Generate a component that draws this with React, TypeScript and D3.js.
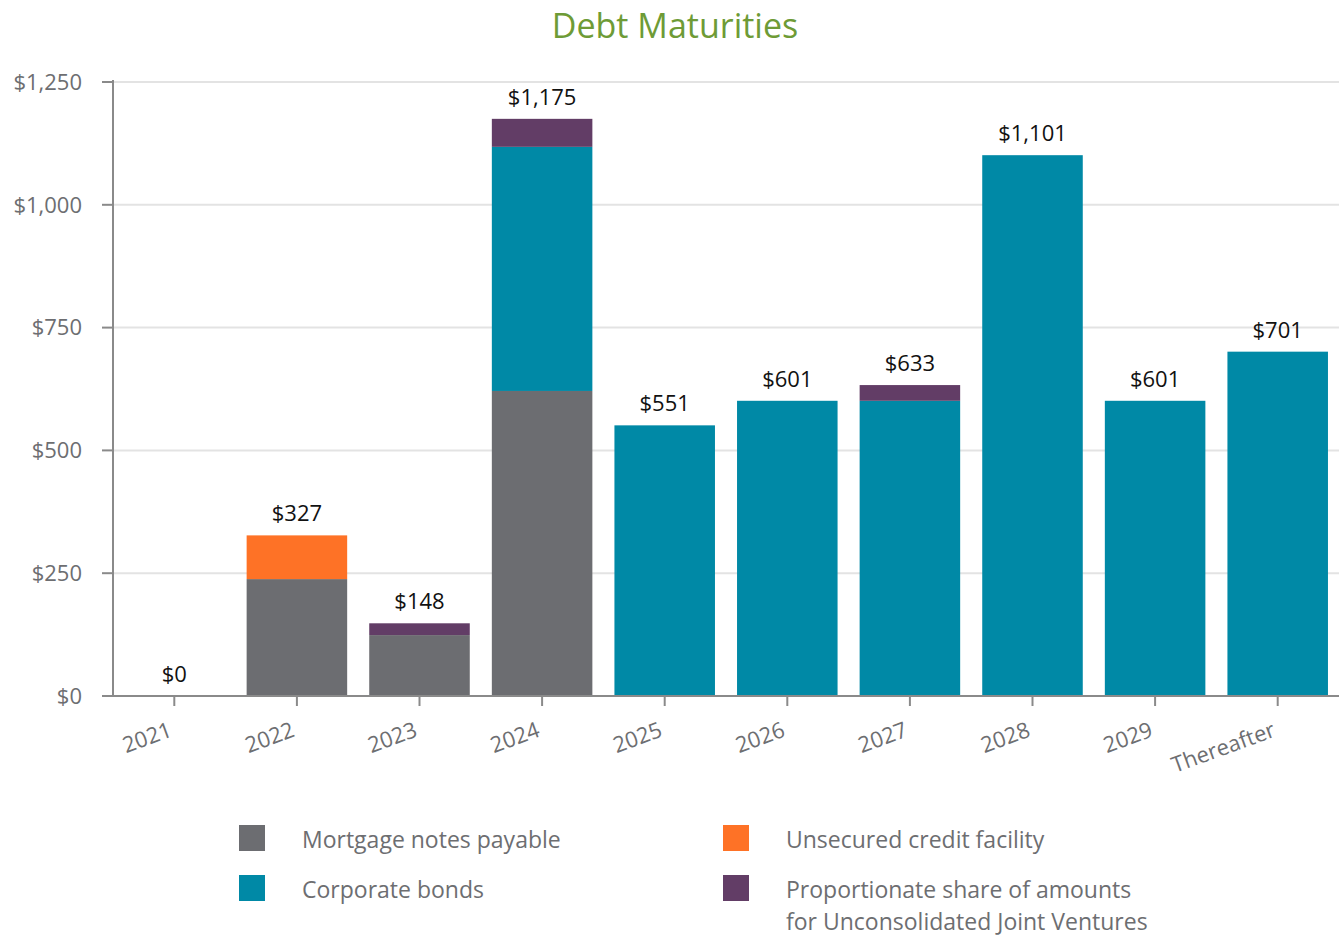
import React from "react";
import * as d3 from "d3";

const years = ["2021", "2022", "2023", "2024", "2025", "2026", "2027", "2028", "2029", "Thereafter"];
const mortgage = [0, 238, 124, 621, 0, 0, 0, 0, 0, 0];
const bonds = [0, 0, 0, 497, 551, 601, 601, 1101, 601, 701];
const unsecured = [0, 89, 0, 0, 0, 0, 0, 0, 0, 0];
const jointVentures = [0, 0, 24, 57, 0, 0, 32, 0, 0, 0];
const totals = [0, 327, 148, 1175, 551, 601, 633, 1101, 601, 701];
const yTicks = [0, 250, 500, 750, 1000, 1250];

const seriesKeys = ["mortgage", "bonds", "unsecured", "jv"];
const seriesNames = [
  "Mortgage notes payable",
  "Corporate bonds",
  "Unsecured credit facility",
  "Proportionate share of amounts",
];
const colors: Record<string, string> = {
  mortgage: "#6c6d71",
  bonds: "#0089a6",
  unsecured: "#fe7226",
  jv: "#623d66",
};

const FONT = "'Open Sans', 'Noto Sans', sans-serif";
const GREY = "#6d6e71";

export default function App() {
  const width = 1343;
  const height = 937;
  const left = 113;
  const right = 1339;
  const top = 82;
  const bottom = 696;

  const x = d3.scaleBand().domain(years).range([left, right]).paddingInner(0.18).paddingOuter(0.09);
  const y = d3.scaleLinear().domain([0, 1250]).range([bottom, top]);

  const table = years.map((yr, i) => ({
    year: yr,
    mortgage: mortgage[i],
    bonds: bonds[i],
    unsecured: unsecured[i],
    jv: jointVentures[i],
  }));
  const stacked = d3.stack<any>().keys(seriesKeys)(table);
  const fmt = d3.format(",");

  // legend layout: two columns, two rows
  const legend = seriesKeys.map((k, i) => ({
    k,
    n: seriesNames[i],
    lx: i < 2 ? 239 : 723,
    ly: i % 2 === 0 ? 825 : 875,
  }));

  return (
    <svg width={width} height={height} style={{ display: "block", position: "absolute", left: 0, top: 0 }} fontFamily={FONT}>
      <text x={675} y={38} textAnchor="middle" fontSize={34} fill="#6e9b36">
        Debt Maturities
      </text>

      {yTicks.map((t) => (
        <g key={t}>
          {t > 0 && <line x1={left} x2={right} y1={y(t)} y2={y(t)} stroke="#e3e3e3" strokeWidth={2} />}
          <line x1={left - 11} x2={left} y1={y(t)} y2={y(t)} stroke="#8a8a8a" strokeWidth={2} />
          <text x={82} y={y(t)} dy="0.35em" textAnchor="end" fontSize={22} fill={GREY}>
            ${fmt(t)}
          </text>
        </g>
      ))}

      {stacked.map((s) => (
        <g key={s.key} fill={colors[s.key]}>
          {s.map((d, i) =>
            d[1] - d[0] > 0 ? (
              <rect key={i} x={x(years[i])} width={x.bandwidth()} y={y(d[1])} height={y(d[0]) - y(d[1])} />
            ) : null
          )}
        </g>
      ))}

      <line x1={left} x2={left} y1={top - 2} y2={bottom} stroke="#8a8a8a" strokeWidth={2} />
      <line x1={left - 11} x2={right} y1={bottom} y2={bottom} stroke="#8a8a8a" strokeWidth={2} />

      {years.map((yr, i) => {
        const cx = x(yr)! + x.bandwidth() / 2;
        return (
          <g key={yr}>
            <line x1={cx} x2={cx} y1={bottom} y2={bottom + 10} stroke="#8a8a8a" strokeWidth={2} />
            <text
              transform={`translate(${cx - 1},${bottom + 40}) rotate(-20)`}
              textAnchor="end"
              fontSize={22}
              fill={GREY}
            >
              {yr}
            </text>
            <text x={cx} y={y(totals[i]) - 14} textAnchor="middle" fontSize={22} fill="#111">
              ${fmt(totals[i])}
            </text>
          </g>
        );
      })}

      {legend.map((l) => (
        <g key={l.k}>
          <rect x={l.lx} y={l.ly} width={26} height={26} fill={colors[l.k]} />
          <text x={l.lx + 63} y={l.ly + 23} fontSize={23} fill={GREY}>
            {l.n}
          </text>
        </g>
      ))}
      <text x={786} y={930} fontSize={23} fill={GREY}>
        for Unconsolidated Joint Ventures
      </text>
    </svg>
  );
}
